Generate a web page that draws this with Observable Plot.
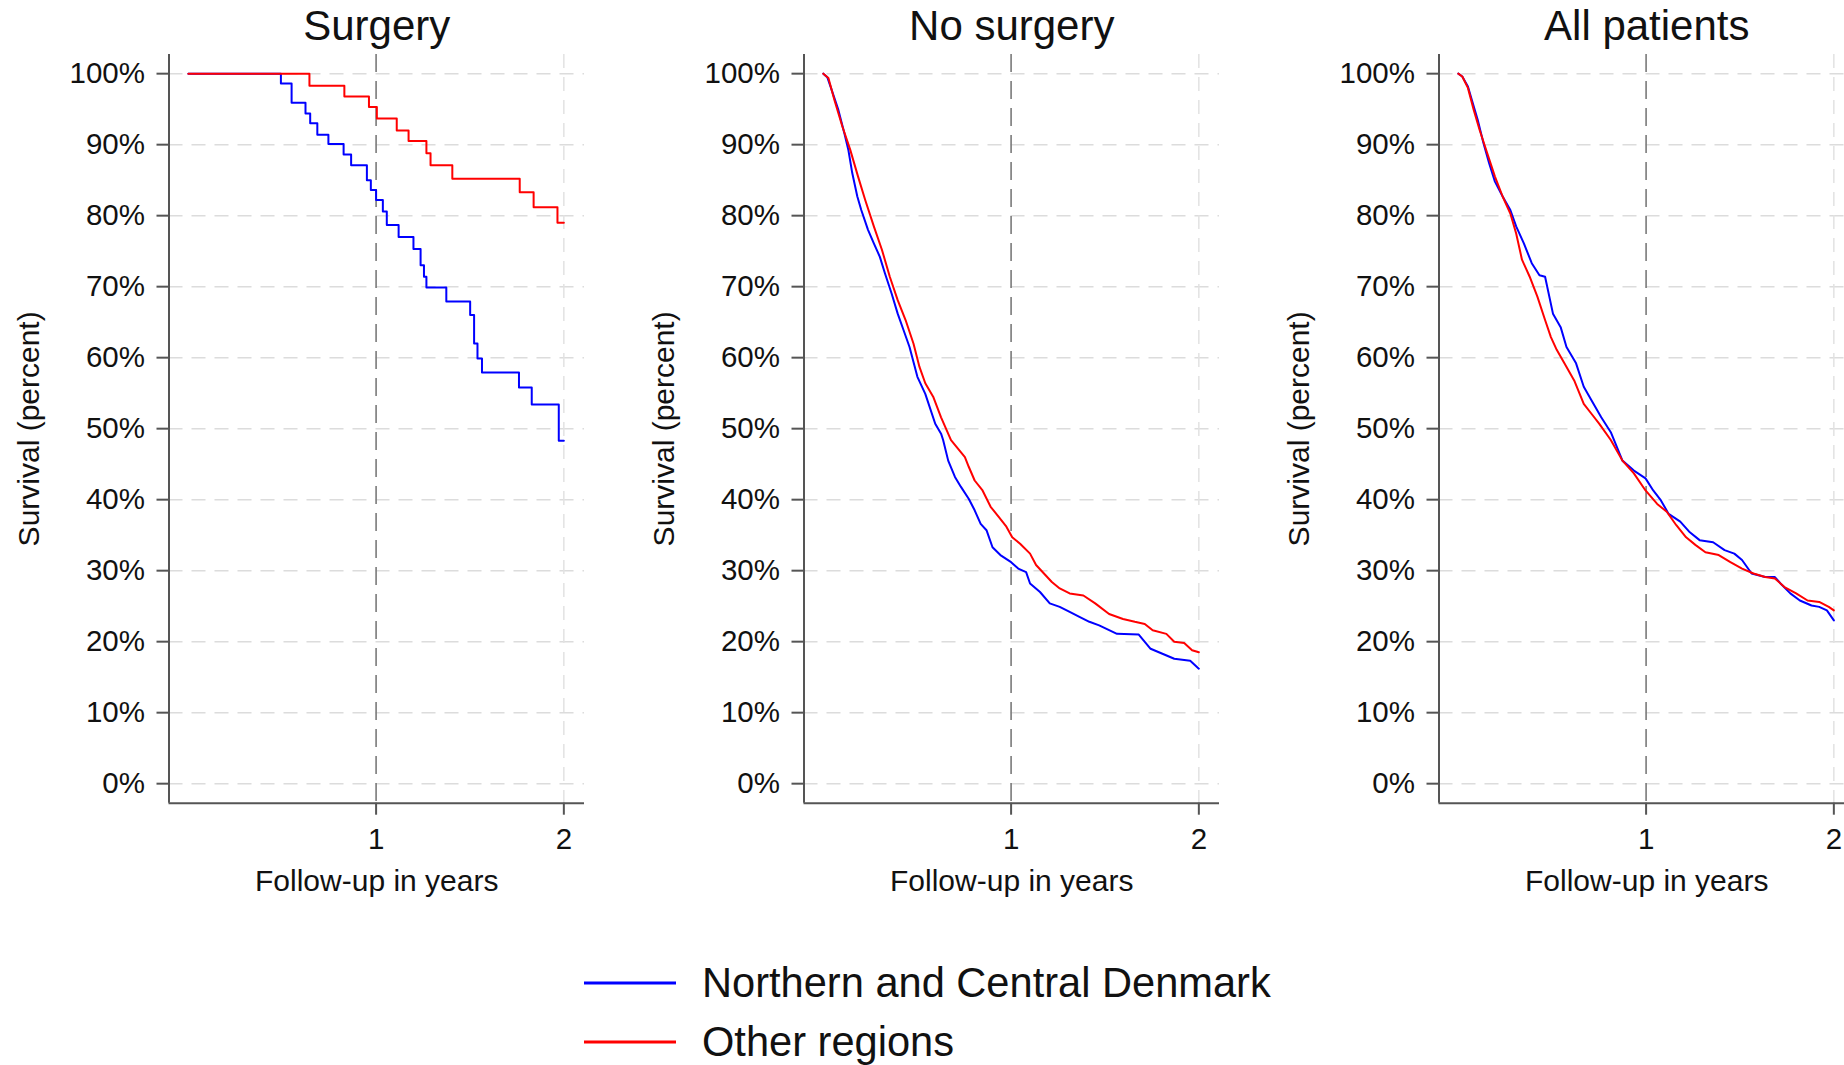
<!DOCTYPE html>
<html><head><meta charset="utf-8">
<script src="https://cdn.jsdelivr.net/npm/d3@7"></script>
<script src="https://cdn.jsdelivr.net/npm/@observablehq/plot@0.6"></script>
<style>
html,body{margin:0;padding:0;background:#fff;overflow:hidden;}
#wrap{position:relative;width:1844px;height:1065px;overflow:hidden;font-family:"Liberation Sans",Arial,sans-serif;}
.panel{position:absolute;top:0;width:635px;height:930px;}
.panel svg{max-width:none !important;width:635px;height:930px;}
#legend{position:absolute;left:584px;top:953.5px;}
.row{display:flex;align-items:center;height:59px;font-size:41.6px;color:#111;white-space:nowrap;}
.row svg{margin-right:26px;display:block;}
</style></head><body><div id="wrap"></div>
<script>
const FONT = '"Liberation Sans", Arial, sans-serif';
const regions = ["Northern and Central Denmark", "Other regions"];
const regionColors = ["#0000ff", "#ff0000"];
const panelTitles = ["Surgery", "No surgery", "All patients"];
const yTicks = [0, 10, 20, 30, 40, 50, 60, 70, 80, 90, 100];
const xTicks = [1, 2];
const yLabel = "Survival (percent)";
const xLabel = "Follow-up in years";

// Surgery
const surgNCD_t = [0, 0.493, 0.550, 0.624, 0.649, 0.687, 0.746, 0.827, 0.867, 0.951, 0.972, 1.0, 1.036, 1.057, 1.12, 1.199, 1.237, 1.255, 1.268, 1.374, 1.501, 1.522, 1.540, 1.564, 1.761, 1.829, 1.973, 2.0];
const surgNCD_s = [100, 98.6, 95.9, 94.4, 93.0, 91.4, 90.1, 88.6, 87.1, 85.0, 83.6, 82.2, 80.6, 78.7, 77.0, 75.3, 73.0, 71.4, 69.9, 67.9, 66.0, 62.0, 59.9, 57.9, 55.8, 53.4, 48.3, 48.3];
const surgOth_t = [0, 0.645, 0.831, 0.962, 1.004, 1.11, 1.173, 1.268, 1.29, 1.406, 1.765, 1.839, 1.966, 2.0];
const surgOth_s = [100, 98.3, 96.8, 95.3, 93.7, 92.0, 90.5, 88.8, 87.1, 85.2, 83.3, 81.2, 79.0, 79.0];

// No surgery
const noSurgNCD_t = [0, 0.021, 0.038, 0.08, 0.112, 0.133, 0.154, 0.181, 0.202, 0.238, 0.269, 0.301, 0.328, 0.364, 0.396, 0.427, 0.459, 0.501, 0.543, 0.596, 0.627, 0.638, 0.665, 0.701, 0.733, 0.775, 0.806, 0.838, 0.869, 0.901, 0.943, 1.0, 1.038, 1.08, 1.101, 1.154, 1.206, 1.259, 1.312, 1.364, 1.417, 1.469, 1.564, 1.68, 1.743, 1.806, 1.869, 1.954, 2.0];
const noSurgNCD_s = [100, 99.5, 98.2, 94.9, 91.6, 89.3, 86.0, 82.7, 80.8, 78.0, 76.1, 74.2, 71.9, 69.0, 66.2, 63.9, 61.5, 57.3, 54.9, 50.7, 49.3, 48.4, 45.5, 43.2, 41.8, 40.1, 38.5, 36.6, 35.7, 33.3, 32.2, 31.2, 30.3, 29.8, 28.2, 27.0, 25.4, 24.9, 24.2, 23.5, 22.8, 22.3, 21.1, 21.0, 19.0, 18.3, 17.6, 17.3, 16.2];
const noSurgOth_t = [0, 0.027, 0.059, 0.101, 0.143, 0.185, 0.223, 0.269, 0.312, 0.354, 0.396, 0.438, 0.48, 0.512, 0.543, 0.585, 0.627, 0.68, 0.754, 0.775, 0.806, 0.848, 0.891, 0.933, 0.975, 1.006, 1.048, 1.101, 1.133, 1.175, 1.217, 1.259, 1.312, 1.385, 1.448, 1.522, 1.596, 1.659, 1.712, 1.754, 1.827, 1.869, 1.922, 1.964, 2.0];
const noSurgOth_s = [100, 99.4, 96.3, 92.6, 89.3, 85.5, 82.2, 78.5, 75.2, 71.4, 68.1, 65.3, 62.0, 58.7, 56.4, 54.5, 51.6, 48.4, 46.0, 44.6, 42.7, 41.3, 39.0, 37.6, 36.2, 34.7, 33.8, 32.4, 30.8, 29.6, 28.4, 27.5, 26.8, 26.5, 25.4, 23.9, 23.2, 22.8, 22.5, 21.6, 21.1, 20.0, 19.8, 18.8, 18.5];

// All patients
const allNCD_t = [0, 0.021, 0.051, 0.072, 0.103, 0.134, 0.164, 0.195, 0.236, 0.277, 0.308, 0.349, 0.391, 0.432, 0.462, 0.504, 0.545, 0.576, 0.627, 0.668, 0.709, 0.761, 0.812, 0.874, 0.935, 0.997, 1.038, 1.079, 1.12, 1.182, 1.233, 1.285, 1.357, 1.418, 1.47, 1.511, 1.562, 1.634, 1.686, 1.716, 1.768, 1.819, 1.881, 1.922, 1.963, 2.0];
const allNCD_s = [100, 99.6, 98.2, 96.3, 93.5, 90.2, 87.4, 84.8, 82.7, 80.8, 78.5, 76.1, 73.3, 71.6, 71.4, 66.2, 64.3, 61.5, 59.2, 55.9, 54.0, 51.6, 49.5, 45.5, 44.1, 43.0, 41.3, 39.9, 38.0, 36.9, 35.4, 34.3, 34.0, 32.9, 32.4, 31.5, 29.6, 29.1, 29.1, 28.2, 26.8, 25.8, 25.1, 24.9, 24.4, 23.0];
const allOth_t = [0, 0.021, 0.051, 0.082, 0.113, 0.154, 0.195, 0.236, 0.277, 0.308, 0.339, 0.380, 0.421, 0.462, 0.493, 0.524, 0.565, 0.617, 0.668, 0.709, 0.750, 0.812, 0.874, 0.935, 0.997, 1.059, 1.11, 1.161, 1.213, 1.264, 1.316, 1.387, 1.449, 1.511, 1.572, 1.634, 1.686, 1.737, 1.799, 1.86, 1.922, 1.973, 2.0];
const allOth_s = [100, 99.6, 98.0, 94.9, 92.1, 88.8, 85.5, 82.7, 80.3, 77.5, 73.8, 71.4, 68.6, 65.3, 62.9, 61.1, 59.2, 56.8, 53.5, 52.1, 50.7, 48.4, 45.5, 43.7, 41.3, 39.4, 38.3, 36.4, 34.7, 33.6, 32.6, 32.2, 31.2, 30.3, 29.6, 29.1, 28.9, 27.7, 26.8, 25.8, 25.6, 24.9, 24.4];

function rows(ts, ss, region) { return ts.map((t, i) => ({t, s: ss[i], region})); }

const panels = [
  {title: panelTitles[0], curve: "step-after", data: [...rows(surgNCD_t, surgNCD_s, regions[0]), ...rows(surgOth_t, surgOth_s, regions[1])]},
  {title: panelTitles[1], curve: "linear", data: [...rows(noSurgNCD_t, noSurgNCD_s, regions[0]), ...rows(noSurgOth_t, noSurgOth_s, regions[1])]},
  {title: panelTitles[2], curve: "linear", data: [...rows(allNCD_t, allNCD_s, regions[0]), ...rows(allOth_t, allOth_s, regions[1])]}
];

const X0 = -0.103, X1 = 2.11, Y0 = -2.75, Y1 = 102.7;
const wrap = document.getElementById("wrap");

panels.forEach((p, i) => {
  const chart = Plot.plot({
    width: 635, height: 930,
    marginLeft: 168.5, marginRight: 51, marginTop: 54, marginBottom: 127.3,
    style: {fontFamily: FONT, color: "#111", background: "transparent", overflow: "visible"},
    x: {domain: [X0, X1]},
    y: {domain: [Y0, Y1]},
    color: {domain: regions, range: regionColors},
    marks: [
      Plot.ruleY(yTicks, {stroke: "#dcdcdc", strokeWidth: 1.5, strokeDasharray: "14,9"}),
      Plot.ruleX([2], {stroke: "#e2e2e2", strokeWidth: 1.5, strokeDasharray: "14,9"}),
      Plot.ruleX([1], {stroke: "#7a7a7a", strokeWidth: 1.6, strokeDasharray: "18,9"}),
      Plot.line(p.data, {x: "t", y: "s", z: "region", stroke: "region", curve: p.curve, strokeWidth: 2}),
      Plot.axisY({ticks: yTicks, tickFormat: d => d + "%", tickSize: 12, tickPadding: 12, fontSize: 29.5, label: null, stroke: "#555", strokeWidth: 2}),
      Plot.axisX({ticks: xTicks, tickFormat: d => String(d), tickSize: 12, tickPadding: 13, fontSize: 29.5, label: null, stroke: "#555", strokeWidth: 2}),
      Plot.ruleX([X0], {stroke: "#555", strokeWidth: 2}),
      Plot.ruleY([Y0], {stroke: "#555", strokeWidth: 2}),
      Plot.text([p.title], {frameAnchor: "top", dy: -28, fontSize: 42, lineAnchor: "middle", fill: "#111"}),
      Plot.text([xLabel], {frameAnchor: "bottom", dy: 78.5, fontSize: 30, lineAnchor: "middle", fill: "#111"}),
      Plot.text([yLabel], {frameAnchor: "left", dx: -139.5, rotate: -90, fontSize: 30, lineAnchor: "middle", textAnchor: "middle", fill: "#111"})
    ]
  });
  const div = document.createElement("div");
  div.className = "panel";
  div.style.left = (635 * i) + "px";
  div.appendChild(chart);
  wrap.appendChild(div);
});

// legend
const legend = document.createElement("div");
legend.id = "legend";
regions.forEach((r, i) => {
  const row = document.createElement("div");
  row.className = "row";
  row.innerHTML = `<svg width="92" height="6"><line x1="0" y1="3" x2="92" y2="3" stroke="${regionColors[i]}" stroke-width="3"/></svg><span>${r}</span>`;
  legend.appendChild(row);
});
wrap.appendChild(legend);
</script></body></html>
